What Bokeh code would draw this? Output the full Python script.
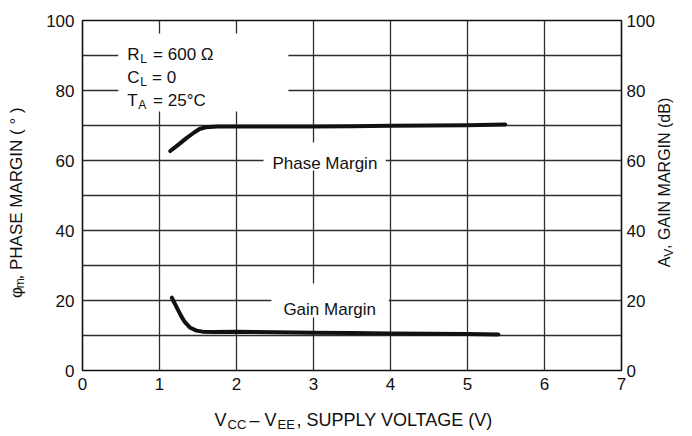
from bokeh.plotting import figure
from bokeh.layouts import row, column
from bokeh.models import Range1d, LinearAxis, FixedTicker, Label
from bokeh.core.properties import value
from bokeh.embed import file_html
from bokeh.resources import INLINE

# ---- data ----
supply_v_phase = [1.14, 1.25, 1.35, 1.45, 1.52, 1.6, 1.75, 2.0, 2.5, 3.0, 3.5, 4.0, 4.5, 5.0, 5.49]
phase_margin = [62.7, 64.6, 66.4, 68.0, 69.0, 69.5, 69.7, 69.7, 69.7, 69.7, 69.8, 69.9, 70.0, 70.1, 70.3]
supply_v_gain = [1.16, 1.22, 1.28, 1.33, 1.4, 1.48, 1.56, 1.7, 2.0, 2.5, 3.0, 3.5, 4.0, 4.5, 5.0, 5.4]
gain_margin = [20.8, 18.2, 15.6, 13.8, 12.2, 11.4, 11.1, 11.0, 11.1, 10.9, 10.8, 10.7, 10.6, 10.5, 10.4, 10.3]

x_ticks = [0, 1, 2, 3, 4, 5, 6, 7]
y_ticks = [0, 20, 40, 60, 80, 100]
y_grid = [0, 10, 20, 30, 40, 50, 60, 70, 80, 90, 100]

x_title = ["V", "CC", "– V", "EE", ", SUPPLY VOLTAGE (V)"]
left_title = ["φ", "m", ", PHASE MARGIN ( ° )"]
right_title = ["A", "V", ", GAIN MARGIN (dB)"]

FONT = "Liberation Sans"
INK = "#111111"
GRID = "#2e2e2e"

# layout geometry (canvas pixels)
LW, RW, MW, MH, BH = 38, 35, 619, 400, 36

p = figure(width=MW, height=MH, x_range=Range1d(0, 7), y_range=Range1d(0, 100),
           output_backend="svg", toolbar_location=None,
           min_border_left=44, min_border_right=33, min_border_top=20, min_border_bottom=30)
p.background_fill_color = "white"
p.border_fill_color = "white"
p.outline_line_color = INK
p.outline_line_width = 1.6

p.xgrid.ticker = FixedTicker(ticks=x_ticks)
p.ygrid.ticker = FixedTicker(ticks=y_grid)
for g in (p.xgrid, p.ygrid):
    g.grid_line_color = GRID
    g.grid_line_width = 1.3

def style_axis(ax, standoff):
    ax.axis_line_color = None
    ax.major_tick_line_color = None
    ax.minor_tick_line_color = None
    ax.major_tick_out = 0
    ax.major_tick_in = 0
    ax.minor_tick_out = 0
    ax.minor_tick_in = 0
    ax.major_label_text_font = FONT
    ax.major_label_text_font_size = "17px"
    ax.major_label_text_color = INK
    ax.major_label_standoff = standoff

p.xaxis.ticker = FixedTicker(ticks=x_ticks)
p.yaxis.ticker = FixedTicker(ticks=y_ticks)
style_axis(p.xaxis[0], 7)
style_axis(p.yaxis[0], 8)
right = LinearAxis(ticker=FixedTicker(ticks=y_ticks))
style_axis(right, 5)
p.add_layout(right, "right")

# page px -> data helpers for annotation placement (frame spans 82..624 x 20..370)
FL, FR, FT, FB = 82.0, 624.0, 20.0, 370.0
def X(px):
    return (px - FL) / (FR - FL) * 7
def Y(py):
    return (FB - py) / (FB - FT) * 100

# white boxes behind in-plot texts (interrupt the grid)
p.quad(left=[X(118), X(264), X(272)], right=[X(289), X(387), X(390)],
       bottom=[Y(111), Y(170), Y(317)], top=[Y(33), Y(142), Y(283)],
       fill_color="white", line_color=None)

p.line(supply_v_phase, phase_margin, line_color=INK, line_width=4, line_join="round", line_cap="round")
p.line(supply_v_gain, gain_margin, line_color=INK, line_width=4, line_join="round", line_cap="round")

def lab(px, py, text, size=17):
    p.add_layout(Label(x=X(px), y=Y(py), text=text, text_font=FONT,
                       text_font_size=f"{size}px", text_color=INK,
                       text_align="left", text_baseline="alphabetic"))

lab(127, 54, "R"); lab(140, 58.5, "L", 12); lab(153, 54, "= 600 Ω")
lab(127, 77, "C"); lab(140, 81.5, "L", 12); lab(152, 77, "= 0")
lab(127, 100, "T"); lab(138, 104.5, "A", 12); lab(153, 100, "= 25°C")
lab(273, 162.5, "Phase Margin")
lab(284, 309, "Gain Margin")

def text_fig(w, h):
    f = figure(width=w, height=h, x_range=Range1d(0, w), y_range=Range1d(h, 0),
               output_backend="svg", toolbar_location=None,
               x_axis_type=None, y_axis_type=None,
               min_border=0, min_border_left=0, min_border_right=0,
               min_border_top=0, min_border_bottom=0)
    f.outline_line_color = None
    f.background_fill_color = "white"
    f.border_fill_color = "white"
    f.xgrid.visible = False
    f.ygrid.visible = False
    return f

def put(f, xs, ys, texts, sizes, angle=0.0):
    for x, y, t, s in zip(xs, ys, texts, sizes):
        if angle:
            # compensate the offset observed for rotated text
            x, y = x - 8, y + 15
        f.text(x=[x], y=[y], text=[t], angle=angle, angle_units="deg",
               text_font=value(FONT), text_font_size=f"{s}px", text_color=INK,
               text_align="left", text_baseline="alphabetic")

# left title (figure spans page x 0..38)
lf = text_fig(LW, MH)
put(lf, [23.5, 27.5, 23.5], [302, 291, 281], left_title, [17, 12, 17], 90)

# right title (figure starts at page x 657)
rf = text_fig(RW, MH)
put(rf, [15, 19, 15], [267, 255, 246], right_title, [16, 12, 16], 90)

# bottom title (figure starts at page y 400)
bf = text_fig(LW + MW + RW, BH)
put(bf, [214, 227, 249, 277, 296], [19, 23.5, 19, 23.5, 19], x_title, [18, 13, 18, 13, 18])

layout = column(row(lf, p, rf, spacing=0), bf, spacing=0)
open("out.html", "w").write(file_html(layout, INLINE))
